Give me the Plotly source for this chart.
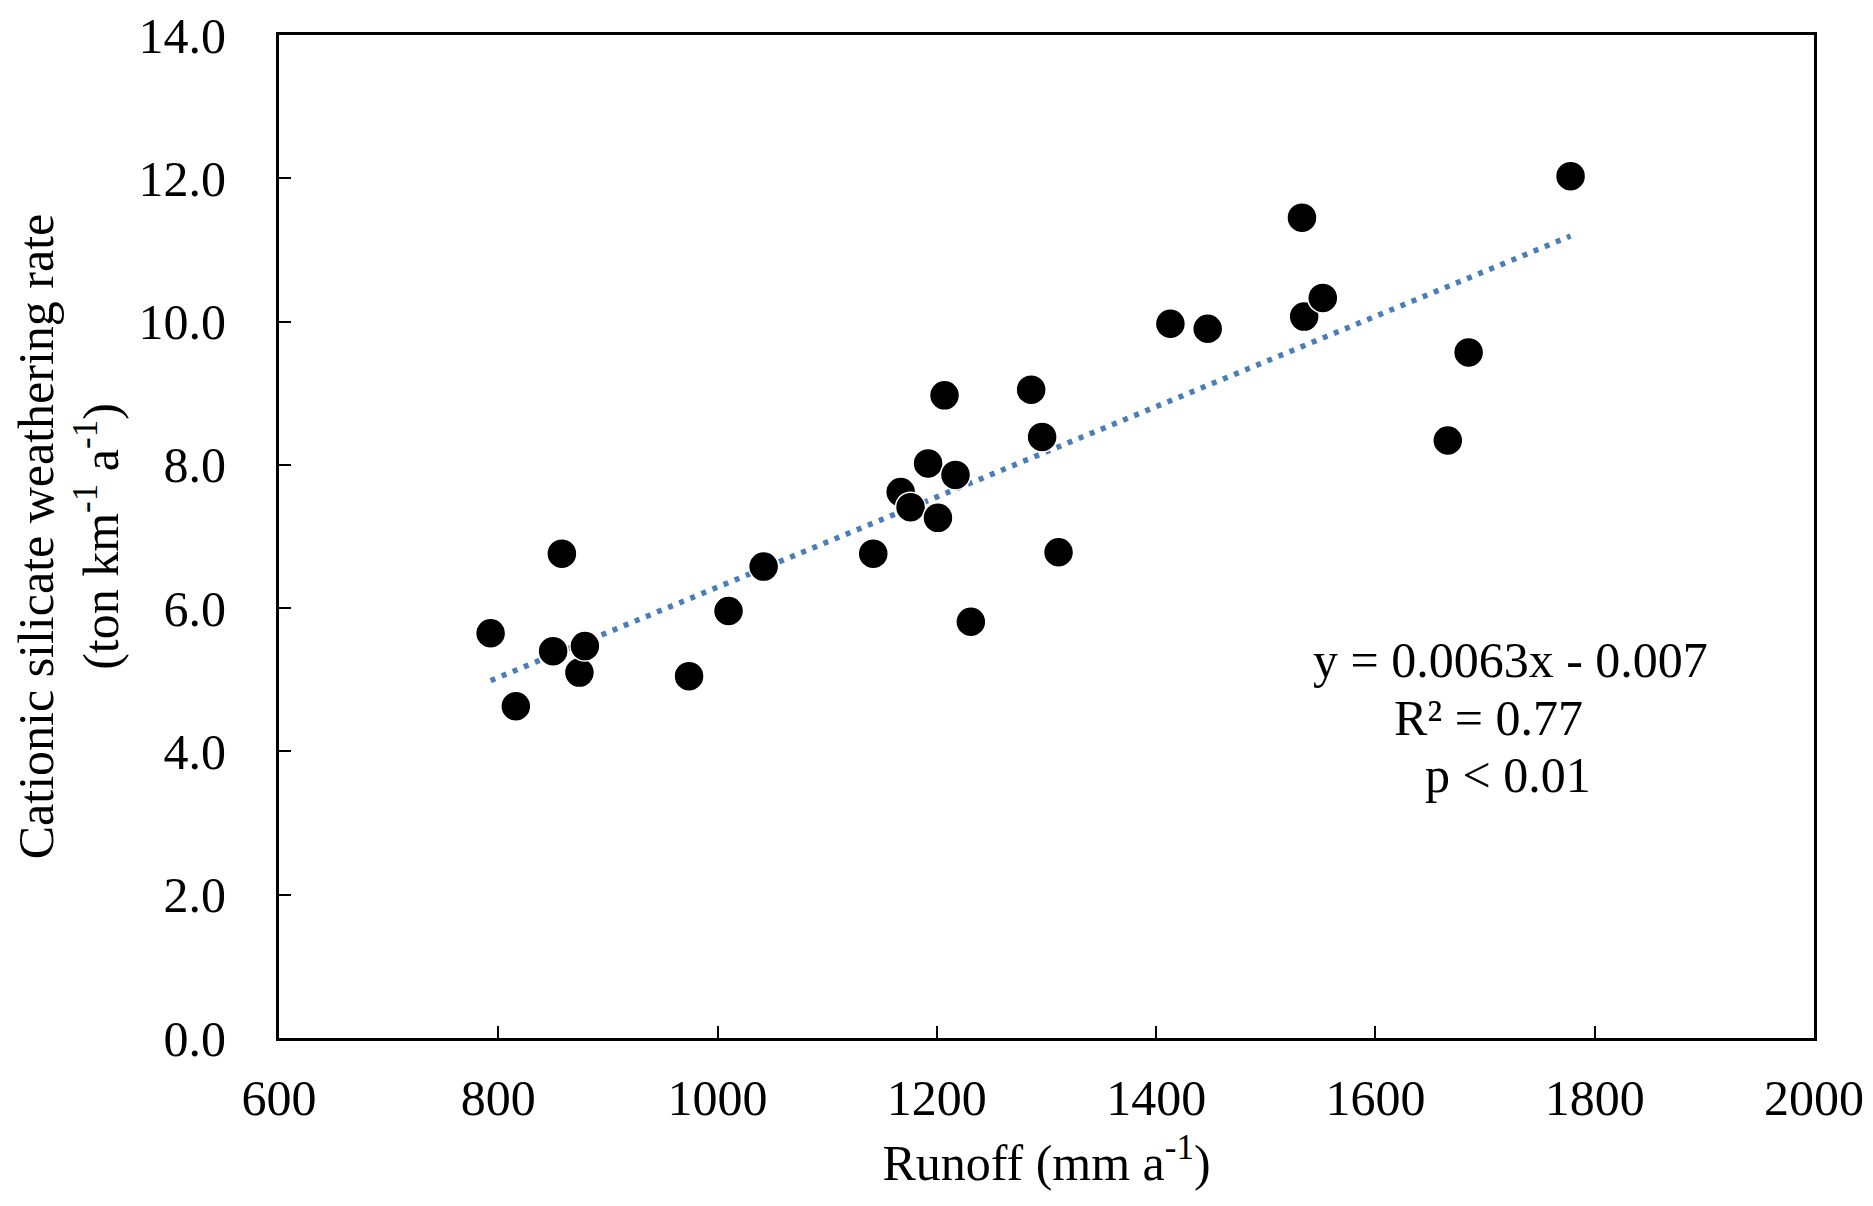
import plotly.graph_objects as go

runoff = [793, 816, 850, 858, 874, 879, 974, 1010, 1042, 1142, 1167, 1176, 1192, 1201,
          1207, 1217, 1231, 1286, 1296, 1311, 1413, 1447, 1533, 1535, 1552, 1666, 1685, 1778]
weathering = [5.65, 4.63, 5.40, 6.76, 5.10, 5.47, 5.05, 5.96, 6.58, 6.76, 7.62, 7.41, 8.02, 7.26,
              8.97, 7.86, 5.81, 9.05, 8.39, 6.78, 9.97, 9.90, 11.45, 10.07, 10.33, 8.34, 9.57, 12.03]

slope = 0.0063
intercept = -0.007
fit_x = [min(runoff), max(runoff)]
fit_y = [slope * v + intercept for v in fit_x]

font = "Liberation Serif"
fs = 50

fig = go.Figure()
fig.add_trace(go.Scatter(x=fit_x, y=fit_y, mode="lines",
                         line=dict(color="#4a7ebb", width=5.5, dash="5px,7px"), showlegend=False))
fig.add_trace(go.Scatter(x=runoff, y=weathering, mode="markers",
                         marker=dict(color="black", size=30, line=dict(color="white", width=1.5)),
                         showlegend=False))

# equation text
fig.add_annotation(x=1723, y=5.27, text="y = 0.0063x - 0.007", showarrow=False)
fig.add_annotation(x=1703, y=4.47, text="R² = 0.77", showarrow=False)
fig.add_annotation(x=1721, y=3.67, text="p < 0.01", showarrow=False)

fig.update_annotations(font=dict(family=font, size=fs, color="black"))

fig.update_xaxes(range=[600, 2000], tickvals=[600, 800, 1000, 1200, 1400, 1600, 1800, 2000],
                 showline=True, linecolor="black", linewidth=3, mirror=True,
                 ticks="inside", ticklen=12, tickwidth=2, tickcolor="black",
                 ticklabelstandoff=14, ticklabeloverflow="allow",
                 showgrid=False, zeroline=False,
                 tickfont=dict(family=font, size=fs, color="black"),
                 title=dict(text="Runoff (mm a<sup>-1</sup>)", standoff=20,
                            font=dict(family=font, size=fs, color="black")))
fig.update_yaxes(range=[0, 14], tickvals=[0, 2, 4, 6, 8, 10, 12, 14], tickformat=".1f",
                 showline=True, linecolor="black", linewidth=3, mirror=True,
                 ticks="inside", ticklen=12, tickwidth=2, tickcolor="black",
                 ticklabelstandoff=40, ticklabeloverflow="allow",
                 showgrid=False, zeroline=False,
                 tickfont=dict(family=font, size=fs, color="black"),
                 title=dict(text="Cationic silicate weathering rate<br>(ton km<sup>-1</sup> a<sup>-1</sup>)",
                            standoff=16, font=dict(family=font, size=fs, color="black")))

fig.update_layout(width=1873, height=1206, plot_bgcolor="white", paper_bgcolor="white",
                  margin=dict(l=271, r=67, t=27, b=176, autoexpand=False))

fig.write_html("out.html")
